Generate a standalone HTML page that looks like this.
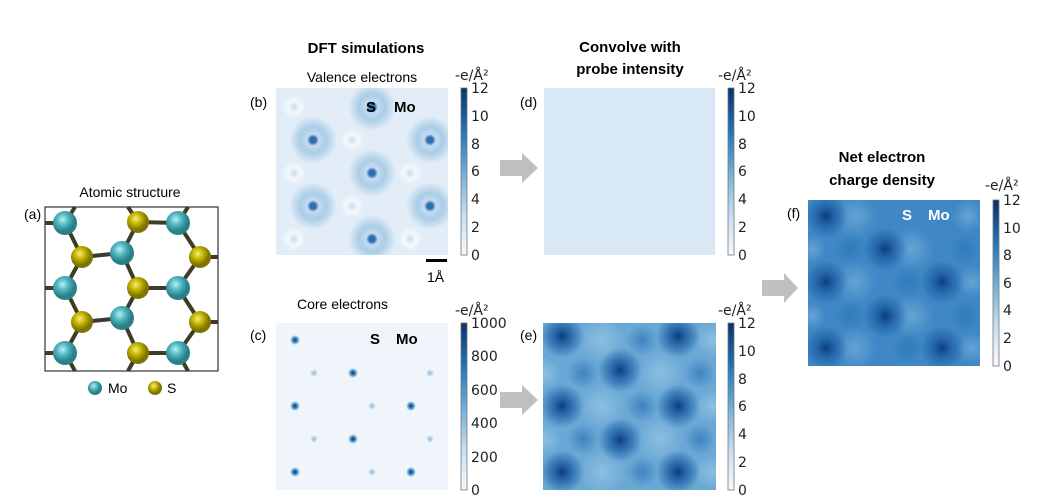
<!DOCTYPE html>
<html><head><meta charset="utf-8"><style>
html,body{margin:0;padding:0;background:#fff;}
svg{display:block;font-family:"DejaVu Sans","Liberation Sans",sans-serif;}
.t{font-size:14px;fill:#222;}
.h{font-family:"Liberation Sans",sans-serif;font-weight:bold;font-size:15px;fill:#000;}
.s{font-family:"Liberation Sans",sans-serif;font-size:14px;fill:#000;}
</style></head><body>
<svg width="1064" height="500" viewBox="0 0 1064 500">
<defs>
<clipPath id="cpb"><rect x="276" y="88" width="172" height="167"/></clipPath>
<clipPath id="cpc"><rect x="276" y="323" width="172" height="167"/></clipPath>
<clipPath id="cpe"><rect x="543" y="323" width="173" height="167"/></clipPath>
<clipPath id="cpf"><rect x="808" y="200" width="172" height="166"/></clipPath>
<linearGradient id="cb" x1="0" y1="1" x2="0" y2="0">
<stop offset="0" stop-color="#f7fbff"/><stop offset="0.25" stop-color="#c6dbef"/><stop offset="0.5" stop-color="#6baed6"/><stop offset="0.75" stop-color="#2171b5"/><stop offset="1" stop-color="#08306b"/></linearGradient>
<radialGradient id="mo"><stop offset="0" stop-color="#2a6fb0"/><stop offset="0.12" stop-color="#2a6fb0"/><stop offset="0.25" stop-color="#c8dcef"/><stop offset="0.55" stop-color="#9cc6e4" stop-opacity="0.8"/><stop offset="1" stop-color="#9cc6e4" stop-opacity="0"/></radialGradient>
<radialGradient id="sv"><stop offset="0" stop-color="#c8ddef"/><stop offset="0.5" stop-color="#f4f8fc"/><stop offset="1" stop-color="#f4f8fc" stop-opacity="0"/></radialGradient>
<radialGradient id="cd"><stop offset="0" stop-color="#08306b"/><stop offset="0.5" stop-color="#4a90c8"/><stop offset="1" stop-color="#4a90c8" stop-opacity="0"/></radialGradient>
<radialGradient id="cl"><stop offset="0" stop-color="#8ab8de"/><stop offset="1" stop-color="#8ab8de" stop-opacity="0"/></radialGradient>
<radialGradient id="dk"><stop offset="0" stop-color="#0b3d7e"/><stop offset="0.5" stop-color="#1e5fa5" stop-opacity="0.7"/><stop offset="1" stop-color="#1e5fa5" stop-opacity="0"/></radialGradient>
<radialGradient id="md"><stop offset="0" stop-color="#2c74b6" stop-opacity="0.7"/><stop offset="1" stop-color="#2c74b6" stop-opacity="0"/></radialGradient>
<radialGradient id="lt"><stop offset="0" stop-color="#9cc8e6" stop-opacity="0.7"/><stop offset="1" stop-color="#9cc8e6" stop-opacity="0"/></radialGradient>
<radialGradient id="lt2"><stop offset="0" stop-color="#7fb5de" stop-opacity="0.6"/><stop offset="1" stop-color="#7fb5de" stop-opacity="0"/></radialGradient>
<radialGradient id="aM" cx="0.4" cy="0.35"><stop offset="0" stop-color="#b8f0f4"/><stop offset="0.5" stop-color="#4fb6c0"/><stop offset="1" stop-color="#2a7f88"/></radialGradient>
<radialGradient id="aS" cx="0.4" cy="0.35"><stop offset="0" stop-color="#f4f080"/><stop offset="0.5" stop-color="#c4b400"/><stop offset="1" stop-color="#7f7400"/></radialGradient>
</defs>

<!-- (a) -->
<text x="130" y="197" class="s" text-anchor="middle">Atomic structure</text>
<text x="24" y="219" class="s">(a)</text>
<rect x="45" y="207" width="173" height="164" fill="#fff" stroke="#333" stroke-width="1.2"/>
<g stroke="#3c3c28" stroke-width="4">
<path d="M65 223L82 257M65 223L45 223M65 223L75 207M122 253L82 257M122 253L138 222M122 253L138 288M178 223L138 222M178 223L200 257M178 223L188 207M65 288L82 257M65 288L82 322M65 288L45 288M178 288L138 288M178 288L200 257M178 288L200 322M122 318L82 322M122 318L138 288M122 318L138 353M65 353L82 322M65 353L45 353M65 353L75 371M178 353L138 353M178 353L200 322M178 353L188 371M200 257L218 257M200 322L218 322M138 222L128 207M138 353L128 371"/>
</g>
<g fill="url(#aM)">
<circle cx="65" cy="223" r="12"/><circle cx="122" cy="253" r="12"/><circle cx="178" cy="223" r="12"/><circle cx="65" cy="288" r="12"/><circle cx="178" cy="288" r="12"/><circle cx="122" cy="318" r="12"/><circle cx="65" cy="353" r="12"/><circle cx="178" cy="353" r="12"/>
</g>
<g fill="url(#aS)">
<circle cx="82" cy="257" r="11"/><circle cx="138" cy="222" r="11"/><circle cx="200" cy="257" r="11"/><circle cx="138" cy="288" r="11"/><circle cx="82" cy="322" r="11"/><circle cx="200" cy="322" r="11"/><circle cx="138" cy="353" r="11"/>
</g>
<circle cx="95" cy="388" r="7" fill="url(#aM)"/><text x="108" y="393" class="s" font-size="13">Mo</text>
<circle cx="155" cy="388" r="7" fill="url(#aS)"/><text x="167" y="393" class="s" font-size="13">S</text>

<!-- titles -->
<text x="366" y="53" class="h" text-anchor="middle">DFT simulations</text>
<text x="362" y="82" class="s" text-anchor="middle">Valence electrons</text>
<text x="630" y="52" class="h" text-anchor="middle">Convolve with</text>
<text x="630" y="74" class="h" text-anchor="middle">probe intensity</text>
<text x="882" y="162" class="h" text-anchor="middle">Net electron</text>
<text x="882" y="185" class="h" text-anchor="middle">charge density</text>

<!-- (b) -->
<text x="250" y="107" class="s">(b)</text>
<rect x="276" y="88" width="172" height="167" fill="#e3edf7"/>
<g clip-path="url(#cpb)">
<circle cx="294" cy="107" r="12" fill="url(#sv)"/><circle cx="352" cy="140" r="12" fill="url(#sv)"/><circle cx="410" cy="173" r="12" fill="url(#sv)"/><circle cx="294" cy="173" r="12" fill="url(#sv)"/><circle cx="352" cy="206" r="12" fill="url(#sv)"/><circle cx="410" cy="239" r="12" fill="url(#sv)"/><circle cx="294" cy="239" r="12" fill="url(#sv)"/>
<circle cx="313" cy="140" r="24" fill="url(#mo)"/><circle cx="372" cy="173" r="24" fill="url(#mo)"/><circle cx="430" cy="140" r="24" fill="url(#mo)"/><circle cx="313" cy="206" r="24" fill="url(#mo)"/><circle cx="430" cy="206" r="24" fill="url(#mo)"/><circle cx="372" cy="239" r="24" fill="url(#mo)"/><circle cx="372" cy="107" r="24" fill="url(#mo)"/>
</g>
<text x="366" y="112" class="h" font-size="14">S</text>
<text x="394" y="112" class="h" font-size="14">Mo</text>
<rect x="426" y="259" width="21" height="3" fill="#000"/>
<text x="427" y="282" class="s" font-size="15">1Å</text>
<!-- (c) -->
<text x="297" y="309" class="s">Core electrons</text>
<text x="250" y="340" class="s">(c)</text>
<rect x="276" y="323" width="172" height="167" fill="#eff5fb"/>
<g clip-path="url(#cpc)">
<circle cx="295" cy="340" r="5" fill="url(#cd)"/><circle cx="353" cy="373" r="5" fill="url(#cd)"/><circle cx="295" cy="406" r="5" fill="url(#cd)"/><circle cx="353" cy="439" r="5" fill="url(#cd)"/><circle cx="295" cy="472" r="5" fill="url(#cd)"/><circle cx="411" cy="406" r="5" fill="url(#cd)"/><circle cx="411" cy="472" r="5" fill="url(#cd)"/>
<circle cx="314" cy="373" r="4" fill="url(#cl)"/><circle cx="372" cy="406" r="4" fill="url(#cl)"/><circle cx="430" cy="373" r="4" fill="url(#cl)"/><circle cx="314" cy="439" r="4" fill="url(#cl)"/><circle cx="430" cy="439" r="4" fill="url(#cl)"/><circle cx="372" cy="472" r="4" fill="url(#cl)"/>
</g>
<text x="370" y="344" class="h" font-size="14">S</text>
<text x="396" y="344" class="h" font-size="14">Mo</text>

<!-- (d) -->
<text x="520" y="107" class="s">(d)</text>
<rect x="544" y="88" width="171" height="167" fill="#d9e8f5"/>
<!-- (e) -->
<text x="520" y="340" class="s">(e)</text>
<rect x="543" y="323" width="173" height="167" fill="#6aa8d5"/>
<g clip-path="url(#cpe)">
<circle cx="602" cy="340" r="24" fill="url(#lt)"/><circle cx="660" cy="373" r="24" fill="url(#lt)"/><circle cx="602" cy="406" r="24" fill="url(#lt)"/><circle cx="660" cy="439" r="24" fill="url(#lt)"/><circle cx="602" cy="472" r="24" fill="url(#lt)"/><circle cx="712" cy="340" r="18" fill="url(#lt)"/><circle cx="712" cy="406" r="18" fill="url(#lt)"/><circle cx="712" cy="472" r="18" fill="url(#lt)"/><circle cx="545" cy="373" r="16" fill="url(#lt)"/><circle cx="545" cy="439" r="16" fill="url(#lt)"/>
<circle cx="642" cy="340" r="16" fill="url(#md)"/><circle cx="583" cy="373" r="16" fill="url(#md)"/><circle cx="642" cy="406" r="16" fill="url(#md)"/><circle cx="583" cy="439" r="16" fill="url(#md)"/><circle cx="642" cy="472" r="16" fill="url(#md)"/><circle cx="700" cy="373" r="16" fill="url(#md)"/><circle cx="700" cy="439" r="16" fill="url(#md)"/>
<circle cx="562" cy="336" r="22" fill="url(#dk)"/><circle cx="620" cy="370" r="22" fill="url(#dk)"/><circle cx="562" cy="406" r="22" fill="url(#dk)"/><circle cx="620" cy="440" r="22" fill="url(#dk)"/><circle cx="562" cy="472" r="22" fill="url(#dk)"/><circle cx="678" cy="336" r="22" fill="url(#dk)"/><circle cx="678" cy="406" r="22" fill="url(#dk)"/><circle cx="678" cy="472" r="22" fill="url(#dk)"/>
</g>

<!-- (f) -->
<text x="787" y="218" class="s">(f)</text>
<rect x="808" y="200" width="172" height="166" fill="#3f88c5"/>
<g clip-path="url(#cpf)">
<circle cx="855" cy="216" r="22" fill="url(#lt2)"/><circle cx="912" cy="249" r="22" fill="url(#lt2)"/><circle cx="855" cy="282" r="22" fill="url(#lt2)"/><circle cx="912" cy="316" r="22" fill="url(#lt2)"/><circle cx="855" cy="348" r="22" fill="url(#lt2)"/><circle cx="968" cy="216" r="16" fill="url(#lt2)"/><circle cx="972" cy="282" r="16" fill="url(#lt2)"/><circle cx="972" cy="348" r="16" fill="url(#lt2)"/><circle cx="812" cy="249" r="14" fill="url(#lt2)"/><circle cx="812" cy="316" r="14" fill="url(#lt2)"/>
<circle cx="850" cy="249" r="16" fill="url(#md)"/><circle cx="908" cy="282" r="16" fill="url(#md)"/><circle cx="850" cy="316" r="16" fill="url(#md)"/><circle cx="908" cy="348" r="16" fill="url(#md)"/><circle cx="965" cy="249" r="16" fill="url(#md)"/><circle cx="965" cy="316" r="16" fill="url(#md)"/>
<circle cx="826" cy="216" r="22" fill="url(#dk)"/><circle cx="885" cy="249" r="22" fill="url(#dk)"/><circle cx="826" cy="282" r="22" fill="url(#dk)"/><circle cx="885" cy="316" r="22" fill="url(#dk)"/><circle cx="826" cy="348" r="22" fill="url(#dk)"/><circle cx="942" cy="282" r="22" fill="url(#dk)"/><circle cx="942" cy="348" r="22" fill="url(#dk)"/>
</g>
<text x="902" y="220" class="h" font-size="14" style="fill:#fff">S</text>
<text x="928" y="220" class="h" font-size="14" style="fill:#fff">Mo</text>

<!-- arrows -->
<polygon points="500,160 522,160 522,153 538,168 522,183 522,176 500,176" fill="#c0c0c0"/>
<polygon points="500,392 522,392 522,385 538,400 522,415 522,408 500,408" fill="#c0c0c0"/>
<polygon points="762,280 784,280 784,273 798,288 784,303 784,296 762,296" fill="#c0c0c0"/>

<!-- colorbars -->
<g class="t">
<g transform="translate(461,88)">
<rect x="0" y="0" width="6" height="167" fill="url(#cb)" stroke="#777" stroke-width="0.8"/>
<text x="-6" y="-8" class="t">-e/Å²</text>
<text x="10" y="5">12</text><text x="10" y="33">10</text><text x="10" y="61">8</text><text x="10" y="88">6</text><text x="10" y="116">4</text><text x="10" y="144">2</text><text x="10" y="172">0</text>
</g>
<g transform="translate(461,323)">
<rect x="0" y="0" width="6" height="167" fill="url(#cb)" stroke="#777" stroke-width="0.8"/>
<text x="-6" y="-8" class="t">-e/Å²</text>
<text x="10" y="5">1000</text><text x="10" y="38">800</text><text x="10" y="72">600</text><text x="10" y="105">400</text><text x="10" y="139">200</text><text x="10" y="172">0</text>
</g>
<g transform="translate(728,88)">
<rect x="0" y="0" width="6" height="167" fill="url(#cb)" stroke="#777" stroke-width="0.8"/>
<text x="-10" y="-8" class="t">-e/Å²</text>
<text x="10" y="5">12</text><text x="10" y="33">10</text><text x="10" y="61">8</text><text x="10" y="88">6</text><text x="10" y="116">4</text><text x="10" y="144">2</text><text x="10" y="172">0</text>
</g>
<g transform="translate(728,323)">
<rect x="0" y="0" width="6" height="167" fill="url(#cb)" stroke="#777" stroke-width="0.8"/>
<text x="-10" y="-8" class="t">-e/Å²</text>
<text x="10" y="5">12</text><text x="10" y="33">10</text><text x="10" y="61">8</text><text x="10" y="88">6</text><text x="10" y="116">4</text><text x="10" y="144">2</text><text x="10" y="172">0</text>
</g>
<g transform="translate(993,200)">
<rect x="0" y="0" width="6" height="166" fill="url(#cb)" stroke="#777" stroke-width="0.8"/>
<text x="-8" y="-10" class="t">-e/Å²</text>
<text x="10" y="5">12</text><text x="10" y="33">10</text><text x="10" y="60">8</text><text x="10" y="88">6</text><text x="10" y="115">4</text><text x="10" y="143">2</text><text x="10" y="171">0</text>
</g>
</g>
</svg>
</body></html>
